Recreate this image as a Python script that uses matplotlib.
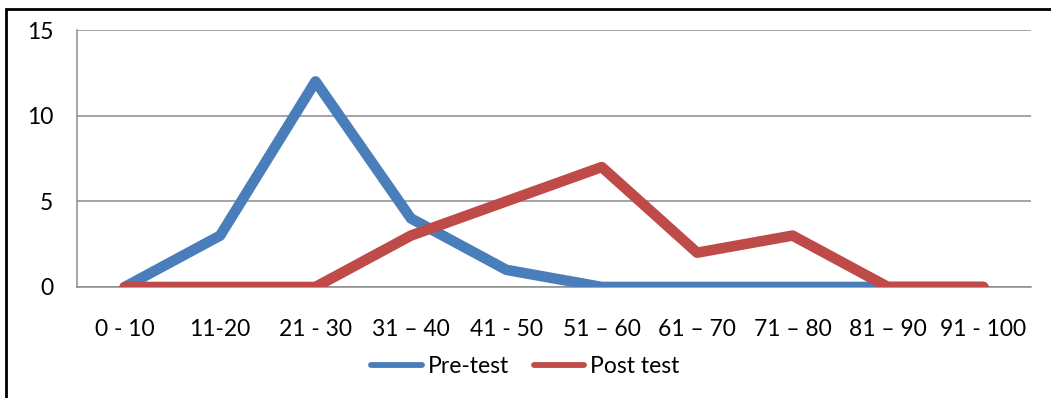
import matplotlib
matplotlib.use('Agg')
import matplotlib.pyplot as plt
from matplotlib.patches import Rectangle

# score bands and number of students in each band
categories = ['0 - 10', '11-20', '21 - 30', '31 \u2013 40', '41 - 50',
              '51 \u2013 60', '61 \u2013 70', '71 \u2013 80', '81 \u2013 90', '91 - 100']
pre_test = [0, 3, 12, 4, 1, 0, 0, 0, 0, 0]
post_test = [0, 0, 0, 3, 5, 7, 2, 3, 0, 0]
y_ticks = [0, 5, 10, 15]

plt.rcParams['font.family'] = ['Lato', 'DejaVu Sans']

fig = plt.figure(figsize=(10.51, 3.98), dpi=100)
ax = fig.add_axes([0.0733, 0.279, 0.9077, 0.6456])

x = range(len(categories))
line_kw = dict(lw=7.6, solid_capstyle='round', solid_joinstyle='round')
ax.plot(x, pre_test, color='#4A7EBB', label='Pre-test', **line_kw)
ax.plot(x, post_test, color='#BE4B48', label='Post test', **line_kw)

ax.set_xlim(-0.5, len(categories) - 0.5)
ax.set_ylim(0, 15)
ax.set_yticks(y_ticks)
ax.set_xticks(list(x))
ax.set_xticklabels(categories)
ax.yaxis.grid(True, color='#8C8C8C', lw=1.1)
ax.set_axisbelow(True)
ax.tick_params(length=0, labelsize=16.5, colors='black')
ax.tick_params(axis='x', pad=23)
ax.tick_params(axis='y', pad=17)

for side in ['top', 'right']:
    ax.spines[side].set_visible(False)
for side in ['left', 'bottom']:
    ax.spines[side].set_color('#8C8C8C')
    ax.spines[side].set_linewidth(1.1)
ax.spines['bottom'].set_zorder(0)

leg = fig.legend(loc='center', bbox_to_anchor=(0.5, 0.078), ncol=2, frameon=False,
                 fontsize=16.5, handlelength=2.2, handletextpad=0.25, columnspacing=1.1)
for handle in leg.get_lines():
    handle.set_linewidth(4.2)

# frame around the chart
fig.patches.append(Rectangle((6 / 1051, -0.1), 1.1, 1.1 - 9 / 398,
                             transform=fig.transFigure, fill=False,
                             edgecolor='black', lw=2.0))

fig.savefig('out.png', dpi=100)
